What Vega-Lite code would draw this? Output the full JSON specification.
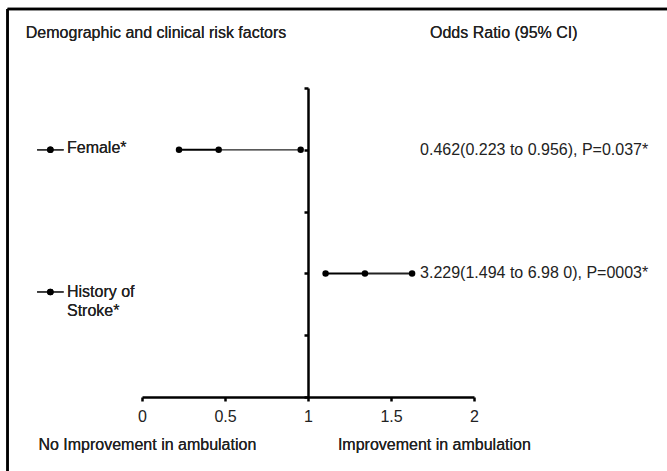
{
  "$schema": "https://vega.github.io/schema/vega-lite/v6.json",
  "width": 332,
  "height": 309,
  "autosize": {"type": "none"},
  "padding": {"left": 142, "top": 88, "right": 193, "bottom": 74},
  "background": "white",
  "config": {
    "view": {"stroke": null},
    "font": "Liberation Sans",
    "text": {"font": "Liberation Sans", "fontSize": 16, "color": "#222"}
  },
  "datasets": {
    "rows": [
      {"factor": "Female*", "row": 4, "or_pt": 0.462, "lo": 0.223, "hi": 0.956, "label": "0.462(0.223 to 0.956), P=0.037*"},
      {"factor": "History of Stroke*", "row": 2, "or_pt": 1.343, "lo": 1.106, "hi": 1.627, "label": "3.229(1.494 to 6.98 0), P=0003*"}
    ]
  },
  "data": {"name": "rows"},
  "layer": [
    {
      "mark": {"type": "rule", "color": "#000", "strokeWidth": 2.5, "clip": false},
      "encoding": {
        "x": {"datum": -0.81, "type": "quantitative"},
        "y": {"datum": 6.28, "type": "quantitative"},
        "y2": {"datum": -1.4}
      }
    },
    {
      "mark": {"type": "rule", "color": "#000", "strokeWidth": 2.5, "clip": false},
      "encoding": {
        "x": {"datum": -0.81, "type": "quantitative"},
        "x2": {"datum": 3.4},
        "y": {"datum": 6.28, "type": "quantitative"}
      }
    },
    {
      "mark": {"type": "rule", "color": "#000", "strokeWidth": 2},
      "encoding": {
        "x": {"field": "lo", "type": "quantitative",
          "scale": {"domain": [0, 2], "nice": false, "zero": false},
          "axis": {
            "values": [0, 0.5, 1, 1.5, 2],
            "format": "~g",
            "grid": false,
            "title": null,
            "domainColor": "#000", "domainWidth": 2.5,
            "tickColor": "#000", "tickWidth": 2.5, "tickSize": 4,
            "labelFont": "Liberation Sans", "labelFontSize": 16, "labelColor": "#222",
            "labelPadding": 7, "labelFlush": false
          }
        },
        "x2": {"field": "or_pt"},
        "y": {"field": "row", "type": "quantitative",
          "scale": {"domain": [0, 5], "nice": false, "zero": false},
          "axis": {
            "values": [0, 1, 2, 3, 4, 5],
            "offset": -166,
            "grid": false,
            "labels": false,
            "title": null,
            "domainColor": "#000", "domainWidth": 2.5,
            "tickColor": "#000", "tickWidth": 2.5, "tickSize": 4
          }
        }
      }
    },
    {
      "mark": {"type": "rule", "color": "#222"},
      "encoding": {
        "x": {"field": "or_pt", "type": "quantitative"},
        "x2": {"field": "hi"},
        "y": {"field": "row", "type": "quantitative"},
        "strokeWidth": {"condition": {"test": "datum.or_pt < 1", "value": 1.2}, "value": 2}
      }
    },
    {
      "transform": [{"fold": ["lo", "or_pt", "hi"], "as": ["kind", "value"]}],
      "mark": {"type": "circle", "color": "#000", "opacity": 1, "size": 42},
      "encoding": {
        "x": {"field": "value", "type": "quantitative"},
        "y": {"field": "row", "type": "quantitative"}
      }
    },
    {
      "mark": {"type": "text", "align": "left", "baseline": "middle"},
      "encoding": {
        "x": {"datum": 1.675, "type": "quantitative"},
        "y": {"field": "row", "type": "quantitative"},
        "text": {"field": "label"}
      }
    },
    {
      "mark": {"type": "text", "align": "left", "baseline": "middle", "clip": false},
      "encoding": {
        "x": {"datum": -0.70, "type": "quantitative"},
        "y": {"datum": 5.89, "type": "quantitative"},
        "text": {"value": "Demographic and clinical risk factors"}
      }
    },
    {
      "mark": {"type": "text", "align": "left", "baseline": "middle"},
      "encoding": {
        "x": {"datum": 1.735, "type": "quantitative"},
        "y": {"datum": 5.89, "type": "quantitative"},
        "text": {"value": "Odds Ratio (95% CI)"}
      }
    },
    {
      "mark": {"type": "text", "align": "left", "baseline": "middle"},
      "encoding": {
        "x": {"datum": -0.624, "type": "quantitative"},
        "y": {"datum": -0.78, "type": "quantitative"},
        "text": {"value": "No Improvement in ambulation"}
      }
    },
    {
      "mark": {"type": "text", "align": "left", "baseline": "middle"},
      "encoding": {
        "x": {"datum": 1.18, "type": "quantitative"},
        "y": {"datum": -0.78, "type": "quantitative"},
        "text": {"value": "Improvement in ambulation"}
      }
    },
    {
      "mark": {"type": "text", "align": "left", "baseline": "middle"},
      "encoding": {
        "x": {"datum": -0.452, "type": "quantitative"},
        "y": {"datum": 4.03, "type": "quantitative"},
        "text": {"value": "Female*"}
      }
    },
    {
      "mark": {"type": "text", "align": "left", "baseline": "middle"},
      "encoding": {
        "x": {"datum": -0.452, "type": "quantitative"},
        "y": {"datum": 1.70, "type": "quantitative"},
        "text": {"value": "History of"}
      }
    },
    {
      "mark": {"type": "text", "align": "left", "baseline": "middle"},
      "encoding": {
        "x": {"datum": -0.452, "type": "quantitative"},
        "y": {"datum": 1.39, "type": "quantitative"},
        "text": {"value": "Stroke*"}
      }
    },
    {
      "mark": {"type": "rule", "color": "#333", "strokeWidth": 1.5},
      "encoding": {
        "x": {"datum": -0.632, "type": "quantitative"},
        "x2": {"datum": -0.472},
        "y": {"datum": 4.0, "type": "quantitative"}
      }
    },
    {
      "mark": {"type": "rule", "color": "#333", "strokeWidth": 1.5},
      "encoding": {
        "x": {"datum": -0.632, "type": "quantitative"},
        "x2": {"datum": -0.472},
        "y": {"datum": 1.70, "type": "quantitative"}
      }
    },
    {
      "mark": {"type": "circle", "color": "#000", "opacity": 1, "size": 42},
      "encoding": {
        "x": {"datum": -0.552, "type": "quantitative"},
        "y": {"datum": 4.0, "type": "quantitative"}
      }
    },
    {
      "mark": {"type": "circle", "color": "#000", "opacity": 1, "size": 42},
      "encoding": {
        "x": {"datum": -0.552, "type": "quantitative"},
        "y": {"datum": 1.70, "type": "quantitative"}
      }
    }
  ]
}
